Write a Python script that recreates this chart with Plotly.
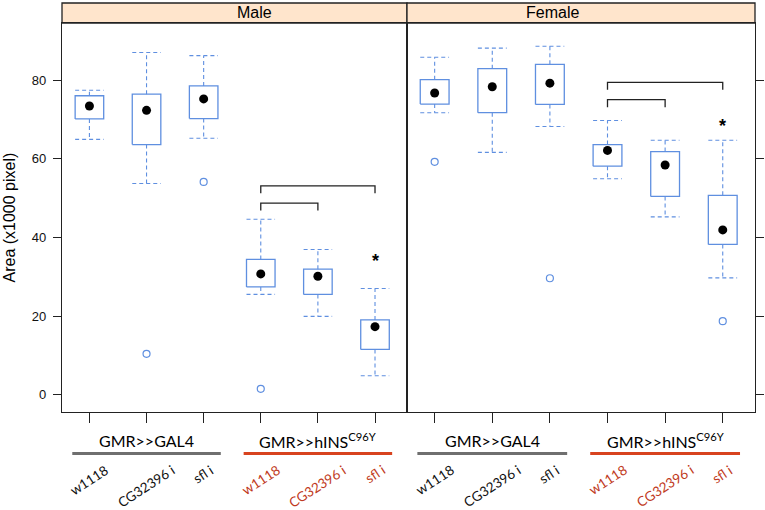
import plotly.graph_objects as go

# ---------------- data ----------------
positions = [1, 2, 3, 4, 5, 6]
genotypes = ["w1118", "CG32396 i", "sfl i", "w1118", "CG32396 i", "sfl i"]
groups = ["GMR>>GAL4", "GMR>>hINS<sup>C96Y</sup>"]
panels = ["Male", "Female"]

male_upper = [77.4, 87.0, 86.2, 44.6, 36.9, 27.0]
male_q3 = [76.0, 76.4, 78.5, 34.4, 31.9, 19.0]
male_median = [73.4, 72.3, 75.2, 30.7, 30.1, 17.3]
male_q1 = [70.1, 63.6, 70.2, 27.4, 25.5, 11.5]
male_lower = [64.9, 53.7, 65.2, 25.5, 19.9, 4.8]
male_out_x = [2, 3, 4]
male_out_y = [10.4, 54.1, 1.5]

female_upper = [85.8, 88.1, 88.6, 69.7, 64.7, 64.7]
female_q3 = [80.1, 82.9, 84.0, 63.6, 61.8, 50.7]
female_median = [76.7, 78.3, 79.2, 62.1, 58.4, 41.9]
female_q1 = [73.9, 71.7, 73.8, 58.1, 50.4, 38.2]
female_lower = [71.7, 61.6, 68.2, 54.9, 45.2, 29.7]
female_out_x = [1, 3, 6]
female_out_y = [59.2, 29.6, 18.7]

# significance brackets: (from, to, height) and asterisk heights
male_brackets = [(4, 6, 53.1), (4, 5, 48.7)]
female_brackets = [(4, 6, 79.4), (4, 5, 75.0)]
male_star = (6, 34.9)
female_star = (6, 69.3)

yticks = [0, 20, 40, 60, 80]

# ---------------- style ----------------
BLUE = "#5f8fe0"
RED_TXT = "#bf3a22"
RED_LINE = "#d8431f"
GRAY_LINE = "#6f6f6f"
HALF_W = 0.25
LEG = 1.9
W, H = 765, 510

fig = go.Figure()


def add_panel(xa, ya, upper, q3, med, q1, lower, ox, oy, brackets, star):
    bx, by, wx, wy = [], [], [], []
    for p, u, t, b, l in zip(positions, upper, q3, q1, lower):
        bx += [p - HALF_W, p + HALF_W, p + HALF_W, p - HALF_W, p - HALF_W, None]
        by += [b, b, t, t, b, None]
        wx += [p, p, None, p, p, None,
               p - HALF_W, p + HALF_W, None, p - HALF_W, p + HALF_W, None]
        wy += [t, u, None, b, l, None, u, u, None, l, l, None]
    fig.add_trace(go.Scatter(x=wx, y=wy, xaxis=xa, yaxis=ya, mode="lines",
                             line=dict(color=BLUE, width=1.1, dash="4px,3px"),
                             hoverinfo="skip", showlegend=False))
    fig.add_trace(go.Scatter(x=bx, y=by, xaxis=xa, yaxis=ya, mode="lines",
                             line=dict(color=BLUE, width=1.3),
                             hoverinfo="skip", showlegend=False))
    fig.add_trace(go.Scatter(x=positions, y=med, xaxis=xa, yaxis=ya, mode="markers",
                             marker=dict(color="black", size=9),
                             showlegend=False))
    fig.add_trace(go.Scatter(x=ox, y=oy, xaxis=xa, yaxis=ya, mode="markers",
                             marker=dict(symbol="circle-open", color=BLUE, size=7,
                                         line=dict(width=1.2)),
                             showlegend=False))
    kx, ky = [], []
    for a, b, h in brackets:
        kx += [a, a, b, b, None]
        ky += [h - LEG, h, h, h - LEG, None]
    fig.add_trace(go.Scatter(x=kx, y=ky, xaxis=xa, yaxis=ya, mode="lines",
                             line=dict(color="#222222", width=1.3),
                             hoverinfo="skip", showlegend=False))
    fig.add_annotation(x=star[0], y=star[1], xref=xa, yref=ya, text="<b>*</b>",
                       showarrow=False, yshift=-4,
                       font=dict(family="Liberation Sans", size=18, color="black"))


add_panel("x", "y", male_upper, male_q3, male_median, male_q1, male_lower,
          male_out_x, male_out_y, male_brackets, male_star)
add_panel("x2", "y2", female_upper, female_q3, female_median, female_q1, female_lower,
          female_out_x, female_out_y, female_brackets, female_star)

XR = [0.52, 6.56]
YR = [-4.4, 94.5]
left, mid, right = 62 / W, 407 / W, 755 / W
ybot, ytop = 1 - 412 / H, 1 - 23 / H
strip_top = 1 - 3 / H

axis_common = dict(showline=True, linecolor="#222222", linewidth=1.3, mirror=True,
                   showgrid=False, zeroline=False)

fig.update_layout(
    width=W, height=H,
    margin=dict(l=0, r=0, t=0, b=0),
    paper_bgcolor="white", plot_bgcolor="white",
    showlegend=False,
    xaxis=dict(domain=[left, mid], range=XR, anchor="y", tickvals=positions,
               showticklabels=False, ticks="outside", ticklen=10, tickcolor="#222222",
               **axis_common),
    xaxis2=dict(domain=[mid, right], range=XR, anchor="y2", tickvals=positions,
                showticklabels=False, ticks="outside", ticklen=10, tickcolor="#222222",
                **axis_common),
    yaxis=dict(domain=[ybot, ytop], range=YR, anchor="x", tickvals=yticks,
               ticks="outside", ticklen=8, tickcolor="#222222", ticklabelstandoff=4,
               tickfont=dict(family="Liberation Sans", size=13, color="#111111"),
               **axis_common),
    yaxis2=dict(domain=[ybot, ytop], range=YR, anchor="x2", side="right", tickvals=yticks,
                ticks="outside", ticklen=8, tickcolor="#222222", showticklabels=False,
                **axis_common),
)

# strips
for name, (x0, x1) in zip(panels, [(left, mid), (mid, right)]):
    fig.add_shape(type="rect", xref="paper", yref="paper", x0=x0, x1=x1, y0=ytop, y1=strip_top,
                  fillcolor="#ffe5cc", line=dict(color="#222222", width=1.3), layer="below")
    fig.add_annotation(xref="paper", yref="paper", x=(x0 + x1) / 2, y=(ytop + strip_top) / 2,
                       text=name, showarrow=False, yanchor="middle",
                       font=dict(family="Liberation Sans", size=16, color="black"))

# y-axis title
fig.add_annotation(xref="paper", yref="paper", x=9 / W, y=(ybot + ytop) / 2, text="Area (x1000 pixel)",
                   textangle=-90, showarrow=False, xanchor="center", yanchor="middle",
                   font=dict(family="Liberation Sans", size=16, color="black"))

# group labels and lines below each panel
grp_y = 1 - 440 / H
line_y = 1 - 453.5 / H
lab_y = 1 - 459 / H
for xa in ["x", "x2"]:
    for gi, (g, lc) in enumerate(zip(groups, [GRAY_LINE, RED_LINE])):
        c = positions[gi * 3 + 1]
        fig.add_shape(type="line", xref=xa, yref="paper", x0=c - 1.3, x1=c + 1.3,
                      y0=line_y, y1=line_y, line=dict(color=lc, width=3))
        fig.add_annotation(xref=xa, yref="paper", x=c, y=grp_y, text=g, showarrow=False,
                           yanchor="middle",
                           font=dict(family="Lato", size=16, color="black"))
    for i, (p, gname) in enumerate(zip(positions, genotypes)):
        col = "#111111" if i < 3 else RED_TXT
        fig.add_annotation(xref=xa, yref="paper", x=p, y=lab_y, text=gname, textangle=-33,
                           showarrow=False, xanchor="center", yanchor="top",
                           font=dict(family="Lato", size=13.5, color=col))

fig.write_html("out.html", config={"displayModeBar": False},
               post_script="document.body.style.margin='0px';"
                           "document.body.style.overflow='hidden';")
